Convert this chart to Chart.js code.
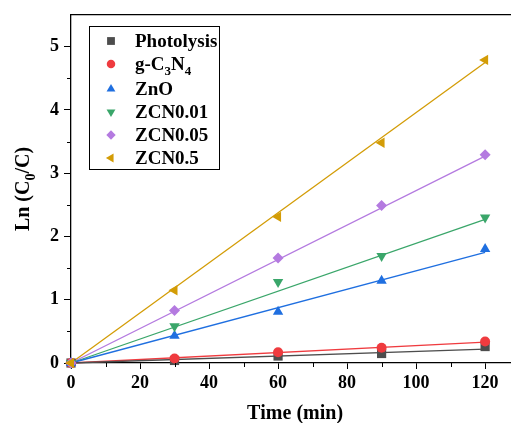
<!DOCTYPE html>
<html>
<head>
<meta charset="utf-8">
<script src="https://cdn.jsdelivr.net/npm/chart.js@4.4.0/dist/chart.umd.min.js"></script>
<style>
  html, body { margin: 0; padding: 0; background: #fff; overflow: hidden; }
  #wrap { width: 511px; height: 423px; }
</style>
</head>
<body>
<div id="wrap"><canvas id="kineticsChart"></canvas></div>
<script>
// irradiation time (min)
const times = [0, 30, 60, 90, 120];

// ln(C0/C) for each sample
const photolysis = [0, 0.04, 0.11, 0.15, 0.26];
const gC3N4      = [0, 0.07, 0.17, 0.24, 0.34];
const zno        = [0, 0.43, 0.81, 1.30, 1.80];
const zcn001     = [0, 0.58, 1.28, 1.69, 2.30];
const zcn005     = [0, 0.83, 1.66, 2.49, 3.29];
const zcn05      = [0, 1.15, 2.31, 3.48, 4.79];

// linear fits, value at start and end of the time range
const fitTimes        = [0, 120];
const fitPhotolysis   = [0, 0.22];
const fitGC3N4        = [0, 0.33];
const fitZnO          = [0, 1.75];
const fitZcn001       = [0, 2.27];
const fitZcn005       = [0, 3.27];
const fitZcn05        = [0, 4.75];

// names, "_" marks a subscript character
const names = ['Photolysis', 'g-C_3N_4', 'ZnO', 'ZCN0.01', 'ZCN0.05', 'ZCN0.5'];

const xTicks = [0, 20, 40, 60, 80, 100, 120];
const yTicks = [0, 1, 2, 3, 4, 5];

const FONT = '"Liberation Serif", "Times New Roman", serif';

const styles = [
    { color: '#4d4d4d', pointStyle: 'rect', radius: 6.5, rotation: 0 },
    { color: '#ef3b3f', pointStyle: 'circle', radius: 5, rotation: 0 },
    { color: '#1f6fe0', pointStyle: 'triangle', radius: 6, rotation: 0 },
    { color: '#3aa66a', pointStyle: 'triangle', radius: 6, rotation: 180 },
    { color: '#b47ae0', pointStyle: 'rectRot', radius: 5.5, rotation: 0 },
    { color: '#d39c06', pointStyle: 'triangle', radius: 6, rotation: -90 }
];

const pointSets = [photolysis, gC3N4, zno, zcn001, zcn005, zcn05];
const fitSets = [fitPhotolysis, fitGC3N4, fitZnO, fitZcn001, fitZcn005, fitZcn05];

const datasets = [];
pointSets.forEach((vals, i) => {
    const s = styles[i];
    datasets.push({
        label: names[i],
        data: times.map((t, k) => ({ x: t, y: vals[k] })),
        showLine: false,
        pointStyle: s.pointStyle,
        pointRadius: s.radius,
        pointRotation: s.rotation,
        pointBackgroundColor: s.color,
        pointBorderColor: s.color,
        pointBorderWidth: 0,
        clip: false,
        order: 50 - i
    });
});
fitSets.forEach((vals, i) => {
    datasets.push({
        label: names[i] + ' fit',
        data: fitTimes.map((t, k) => ({ x: t, y: vals[k] })),
        showLine: true,
        borderColor: styles[i].color,
        borderWidth: 1.3,
        pointRadius: 0,
        fill: false,
        clip: false,
        order: 100 + i
    });
});

// draws text where "_c" puts c as a subscript
function richWidth(ctx, text, size) {
    let w = 0;
    for (let i = 0; i < text.length; i++) {
        if (text[i] === '_') {
            ctx.font = 'bold ' + Math.round(size * 0.7) + 'px ' + FONT;
            w += ctx.measureText(text[++i]).width;
        } else {
            ctx.font = 'bold ' + size + 'px ' + FONT;
            w += ctx.measureText(text[i]).width;
        }
    }
    return w;
}
function drawRich(ctx, text, x, y, size) {
    ctx.textBaseline = 'alphabetic';
    ctx.textAlign = 'left';
    for (let i = 0; i < text.length; i++) {
        if (text[i] === '_') {
            ctx.font = 'bold ' + Math.round(size * 0.7) + 'px ' + FONT;
            const c = text[++i];
            ctx.fillText(c, x, y + size * 0.28);
            x += ctx.measureText(c).width;
        } else {
            ctx.font = 'bold ' + size + 'px ' + FONT;
            ctx.fillText(text[i], x, y);
            x += ctx.measureText(text[i]).width;
        }
    }
}

const extras = {
    id: 'extras',
    afterDraw(chart) {
        const ctx = chart.ctx;
        const xs = chart.scales.x, ys = chart.scales.y;
        const area = chart.chartArea;
        ctx.save();
        ctx.strokeStyle = '#000';
        ctx.lineWidth = 1;
        // minor ticks
        ctx.beginPath();
        for (let v = 10; v < 127; v += 20) {
            const px = Math.round(xs.getPixelForValue(v)) + 0.5;
            ctx.moveTo(px, area.bottom);
            ctx.lineTo(px, area.bottom + 4);
        }
        for (let v = 0.5; v < 5.5; v += 1) {
            const py = Math.round(ys.getPixelForValue(v)) + 0.5;
            ctx.moveTo(area.left, py);
            ctx.lineTo(area.left - 4, py);
        }
        ctx.stroke();

        ctx.fillStyle = '#000';
        // axis titles
        const xt = 'Time (min)';
        const xw = richWidth(ctx, xt, 20);
        drawRich(ctx, xt, 295 - xw / 2, 419, 20);

        const yt = 'Ln (C_0/C)';
        const yw = richWidth(ctx, yt, 20);
        ctx.save();
        ctx.translate(29, (area.top + area.bottom) / 2);
        ctx.rotate(-Math.PI / 2);
        drawRich(ctx, yt, -yw / 2, 0, 20);
        ctx.restore();

        // legend box
        const bx = 89.5, by = 26.5, bw = 130, bh = 143;
        ctx.fillStyle = '#fff';
        ctx.fillRect(bx, by, bw, bh);
        ctx.strokeRect(bx, by, bw, bh);
        const rows = [41, 64, 89, 112, 135, 158];
        names.forEach((n, i) => {
            const s = styles[i];
            ctx.fillStyle = s.color;
            ctx.strokeStyle = s.color;
            ctx.lineWidth = 0;
            Chart.helpers.drawPoint(ctx, {
                pointStyle: s.pointStyle,
                radius: s.radius * 0.85,
                rotation: s.rotation,
                borderWidth: 0
            }, 111, rows[i]);
            ctx.fillStyle = '#000';
            drawRich(ctx, n, 135, rows[i] + 6, 19);
        });
        ctx.restore();
    }
};

const ctx = document.getElementById('kineticsChart').getContext('2d');
new Chart(ctx, {
    type: 'scatter',
    data: { datasets: datasets },
    options: {
        responsive: true,
        maintainAspectRatio: false,
        animation: false,
        layout: { padding: 0, autoPadding: false },
        plugins: {
            legend: { display: false },
            tooltip: { enabled: false }
        },
        scales: {
            x: {
                type: 'linear',
                position: 'bottom',
                min: 0,
                max: 127.5,
                afterFit: s => { s.height = 60; s.paddingRight = 0; s.paddingLeft = 0; },
                afterBuildTicks: s => { s.ticks = xTicks.map(v => ({ value: v })); },
                ticks: {
                    color: '#000',
                    padding: 4,
                    font: { family: FONT, size: 18, weight: 'bold' }
                },
                grid: { drawOnChartArea: false, tickLength: 6, tickColor: '#000', tickWidth: 1 },
                border: { color: '#000', width: 1.3 }
            },
            xTop: {
                type: 'linear',
                position: 'top',
                min: 0,
                max: 127.5,
                afterFit: s => { s.height = 15; s.paddingRight = 0; s.paddingLeft = 0; },
                ticks: { display: false },
                grid: { display: false, drawTicks: false },
                border: { color: '#000', width: 1.3 }
            },
            y: {
                type: 'linear',
                min: 0,
                max: 5.5,
                afterFit: s => { s.width = 71; s.paddingTop = 0; s.paddingBottom = 0; },
                afterBuildTicks: s => { s.ticks = yTicks.map(v => ({ value: v })); },
                ticks: {
                    color: '#000',
                    padding: 5,
                    font: { family: FONT, size: 18, weight: 'bold' }
                },
                grid: { drawOnChartArea: false, tickLength: 7, tickColor: '#000', tickWidth: 1 },
                border: { color: '#000', width: 1.3 }
            }
        }
    },
    plugins: [extras]
});
</script>
</body>
</html>
